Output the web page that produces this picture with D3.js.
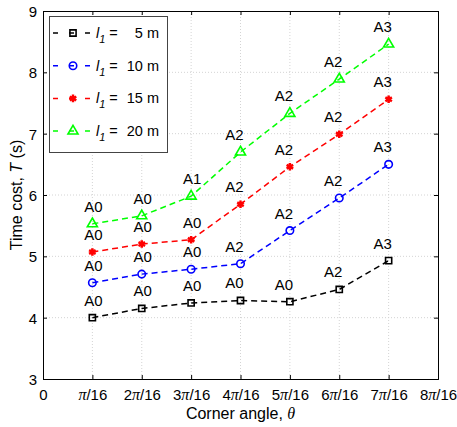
<!DOCTYPE html>
<html>
<head>
<meta charset="utf-8">
<script src="https://cdn.jsdelivr.net/npm/d3@7"></script>
<style>
  body { margin: 0; background: #fff; }
  text { font-family: "Liberation Sans", Arial, sans-serif; font-size: 14px; fill: #000; }
  .grid line { stroke: #d4d4d4; stroke-dasharray: 1,2; }
  .pt-label { text-anchor: middle; font-size: 15px; }
  .title { font-size: 16px; }
</style>
</head>
<body>
<div id="chart"></div>
<script>
// corner angle, as multiples of pi/16
const angles = [1, 2, 3, 4, 5, 6, 7];
const cost5  = [4.00, 4.15, 4.24, 4.28, 4.26, 4.46, 4.93];
const cost10 = [4.57, 4.71, 4.79, 4.88, 5.42, 5.95, 6.50];
const cost15 = [5.07, 5.20, 5.27, 5.85, 6.46, 6.99, 7.56];
const cost20 = [5.53, 5.66, 5.98, 6.70, 7.33, 7.89, 8.46];
const label5  = ["A0", "A0", "A0", "A0", "A0", "A2", "A3"];
const label10 = ["A0", "A0", "A0", "A2", "A2", "A2", "A3"];
const label15 = ["A0", "A0", "A0", "A2", "A2", "A2", "A3"];
const label20 = ["A0", "A0", "A1", "A2", "A2", "A2", "A3"];
const xTicks = [0, 1, 2, 3, 4, 5, 6, 7, 8];
const yTicks = [3, 4, 5, 6, 7, 8, 9];

const series = [
  { l1: "5",  values: cost5,  labels: label5,  color: "#000000", symbol: d3.symbolSquare,   size: 38, fill: "none" },
  { l1: "10", values: cost10, labels: label10, color: "#0000ff", symbol: d3.symbolCircle,   size: 44, fill: "none" },
  { l1: "15", values: cost15, labels: label15, color: "#ff0000", symbol: d3.symbolAsterisk, size: 40, fill: "#ff0000" },
  { l1: "20", values: cost20, labels: label20, color: "#00ff00", symbol: d3.symbolTriangle, size: 44, fill: "none" }
];

const W = 457, H = 427;
const x = d3.scaleLinear().domain([0, 8]).range([43, 438]);
const y = d3.scaleLinear().domain([3, 9]).range([379, 11]);

const svg = d3.select("#chart").append("svg")
    .attr("width", W).attr("height", H);

// grid
const grid = svg.append("g").attr("class", "grid");
grid.selectAll(".gx").data(xTicks.slice(1, -1)).enter().append("line")
    .attr("x1", d => x(d)).attr("x2", d => x(d))
    .attr("y1", y(9)).attr("y2", y(3));
grid.selectAll(".gy").data(yTicks.slice(1, -1)).enter().append("line")
    .attr("x1", x(0)).attr("x2", x(8))
    .attr("y1", d => y(d)).attr("y2", d => y(d));

// axes (ticks inward on all four sides)
const xAxis = svg.append("g").attr("transform", `translate(0,${y(3)})`)
    .call(d3.axisBottom(x).tickValues(xTicks).tickSize(-4).tickFormat(""));
const xTop = svg.append("g").attr("transform", `translate(0,${y(9)})`)
    .call(d3.axisTop(x).tickValues(xTicks).tickSize(-4).tickFormat(""));
const yAxis = svg.append("g").attr("transform", `translate(${x(0)},0)`)
    .call(d3.axisLeft(y).tickValues(yTicks).tickSize(-4).tickPadding(6).tickFormat(d3.format("d")));
const yRight = svg.append("g").attr("transform", `translate(${x(8)},0)`)
    .call(d3.axisRight(y).tickValues(yTicks).tickSize(-4).tickFormat(""));
[xAxis, xTop, yAxis, yRight].forEach(a => {
  a.select(".domain").attr("stroke", "#000");
  a.selectAll(".tick line").attr("stroke", "#000");
  a.selectAll("text").style("font-size", "15px");
});
yAxis.selectAll(".tick text").attr("dy", "0.36em");

// x tick labels with italic pi
xAxis.selectAll(".tick").each(function(k) {
  const t = d3.select(this).append("text")
      .attr("y", 21).attr("text-anchor", "middle").style("font-size", "15px");
  if (k === 0) { t.text("0"); return; }
  if (k > 1) t.append("tspan").text(k);
  t.append("tspan").style("font-family", "'Liberation Serif', serif")
      .style("font-style", "italic").style("font-size", "16px").text("π");
  t.append("tspan").text("/16");
});

// lines, markers, labels
series.forEach(s => {
  const pts = angles.map((a, i) => ({ a, v: s.values[i], lab: s.labels[i] }));
  svg.append("path").datum(pts)
      .attr("fill", "none").attr("stroke", s.color)
      .attr("stroke-width", 1.5).attr("stroke-dasharray", "6,4")
      .attr("d", d3.line().x(d => x(d.a)).y(d => y(d.v)));
  svg.selectAll(null).data(pts).enter().append("path")
      .attr("transform", d => `translate(${x(d.a)},${y(d.v)})`)
      .attr("d", d3.symbol().type(s.symbol).size(s.size))
      .attr("fill", s.fill).attr("stroke", s.color)
      .attr("stroke-width", s.symbol === d3.symbolAsterisk ? 2.5 : 1.6);
  svg.selectAll(null).data(pts).enter().append("text")
      .attr("class", "pt-label")
      .attr("x", d => x(d.a) + (d.a >= 4 ? -6 : 1))
      .attr("y", d => y(d.v) - 12)
      .text(d => d.lab);
});

// axis titles
const xt = svg.append("text").attr("class", "title")
    .attr("x", (x(0) + x(8)) / 2).attr("y", 419)
    .attr("text-anchor", "middle");
xt.append("tspan").text("Corner angle, ");
xt.append("tspan").style("font-family", "'Liberation Serif', serif")
    .style("font-style", "italic").text("θ");

const yt = svg.append("text").attr("class", "title")
    .attr("transform", `translate(22,${(y(3) + y(9)) / 2}) rotate(-90)`)
    .attr("text-anchor", "middle");
yt.append("tspan").text("Time cost, ");
yt.append("tspan").style("font-style", "italic").text("T");
yt.append("tspan").text(" (s)");

// legend
const lg = svg.append("g");
lg.append("rect").attr("x", 49.5).attr("y", 16.5).attr("width", 118).attr("height", 136)
    .attr("fill", "#fff").attr("stroke", "#444").attr("stroke-width", 1);
series.forEach((s, i) => {
  const cy = 33 + i * 32.7;
  lg.append("line").attr("x1", 53).attr("x2", 93).attr("y1", cy).attr("y2", cy)
      .attr("stroke", s.color).attr("stroke-width", 1.5).attr("stroke-dasharray", "5,11");
  lg.append("path").attr("transform", `translate(73,${cy})`)
      .attr("d", d3.symbol().type(s.symbol).size(s.size))
      .attr("fill", s.fill).attr("stroke", s.color)
      .attr("stroke-width", s.symbol === d3.symbolAsterisk ? 2.5 : 1.6);
  const t = lg.append("text").attr("x", 96).attr("y", cy + 5).style("font-size", "14.5px");
  t.append("tspan").style("font-style", "italic").text("l");
  t.append("tspan").style("font-style", "italic").style("font-size", "11px")
      .attr("dy", 5).text("1");
  t.append("tspan").attr("dy", -5).attr("dx", 4).text("=");
  lg.append("text").attr("x", 159).attr("y", cy + 5).attr("text-anchor", "end")
      .style("font-size", "14.5px").text(s.l1 + " m");
});
</script>
</body>
</html>
